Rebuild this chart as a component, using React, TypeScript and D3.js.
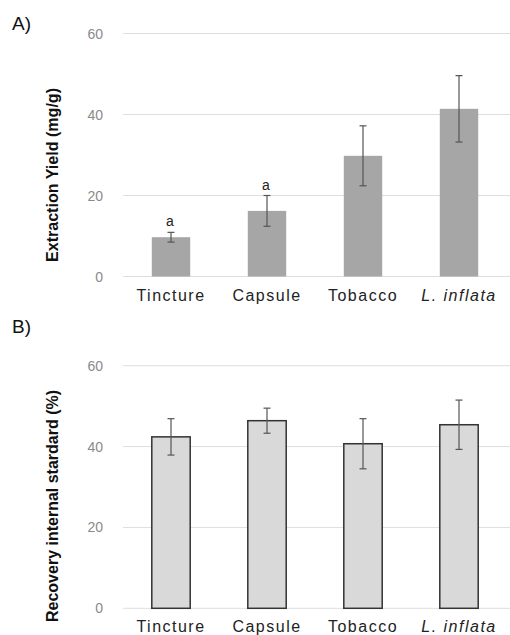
import React from "react";
import * as d3 from "d3";

// two stacked bar panels: extraction yield and internal standard recovery

const categories = ["Tincture", "Capsule", "Tobacco", "L. inflata"];
const yieldValues = [9.7, 16.2, 29.8, 41.4];
const yieldErrors = [1.2, 3.8, 7.4, 8.2];
const yieldLetters = ["a", "a", "", ""];
const recoveryValues = [42.4, 46.4, 40.7, 45.4];
const recoveryErrors = [4.5, 3.1, 6.2, 6.1];
const yTicks = [0, 20, 40, 60];

const W = 510;
const H = 635;
const FONT = "'Liberation Sans', Arial, sans-serif";

type PanelProps = {
  top: number; // pixel y of the 60 gridline
  bottom: number; // pixel y of 0
  letter: string;
  letterY: number;
  label: string;
  labelY: number;
  labelLen: number;
  values: number[];
  errors: number[];
  letters?: string[];
  fill: string;
  stroke?: string;
  catY: number;
};

function Panel(p: PanelProps) {
  const x = d3
    .scaleBand<string>()
    .domain(categories)
    .range([123, 507])
    .paddingInner(0.6)
    .paddingOuter(0.3);
  const y = d3.scaleLinear().domain([0, 60]).range([p.bottom, p.top]);
  const capW = 7;

  return (
    <g>
      <text x={12} y={p.letterY} fontFamily={FONT} fontSize={19} dominantBaseline="middle" fill="#111">
        {p.letter}
      </text>
      {yTicks.map((t) => (
        <g key={t}>
          <line x1={123} x2={W} y1={y(t)} y2={y(t)} stroke="#dedede" strokeWidth={1} />
          <text
            x={103}
            y={y(t)}
            textAnchor="end"
            dominantBaseline="central"
            fontFamily={FONT}
            fontSize={14}
            fill="#8a8a8a"
          >
            {t}
          </text>
        </g>
      ))}
      <text
        transform={`translate(52,${p.labelY}) rotate(-90)`}
        textAnchor="middle"
        dominantBaseline="central"
        fontFamily={FONT}
        fontSize={16}
        fontWeight="bold"
        textLength={p.labelLen}
        lengthAdjust="spacingAndGlyphs"
        fill="#111"
      >
        {p.label}
      </text>
      {categories.map((c, i) => {
        const bx = x(c)!;
        const cx = bx + x.bandwidth() / 2;
        const v = p.values[i];
        const e = p.errors[i];
        return (
          <g key={c}>
            <rect
              x={bx}
              y={y(v)}
              width={x.bandwidth()}
              height={y(0) - y(v)}
              fill={p.fill}
              stroke={p.stroke ?? "none"}
              strokeWidth={p.stroke ? 1.5 : 0}
            />
            <line x1={cx} x2={cx} y1={y(v + e)} y2={y(v - e)} stroke="#555" strokeWidth={1.2} />
            <line x1={cx - capW / 2} x2={cx + capW / 2} y1={y(v + e)} y2={y(v + e)} stroke="#555" strokeWidth={1.2} />
            <line x1={cx - capW / 2} x2={cx + capW / 2} y1={y(v - e)} y2={y(v - e)} stroke="#555" strokeWidth={1.2} />
            {p.letters && p.letters[i] ? (
              <text
                x={cx - 1}
                y={y(v + e) - 11}
                textAnchor="middle"
                dominantBaseline="central"
                fontFamily={FONT}
                fontSize={14}
                fill="#222"
              >
                {p.letters[i]}
              </text>
            ) : null}
            <text
              x={cx}
              y={p.catY}
              textAnchor="middle"
              dominantBaseline="central"
              fontFamily={FONT}
              fontSize={16}
              letterSpacing={1.5}
              fontStyle={c.startsWith("L.") ? "italic" : "normal"}
              fill="#222"
            >
              {c}
            </text>
          </g>
        );
      })}
    </g>
  );
}

export default function App() {
  return (
    <svg
      width={W}
      height={H}
      style={{ position: "absolute", left: 0, top: 0, background: "#fff" }}
    >
      <Panel
        top={33.5}
        bottom={276.5}
        letter="A)"
        letterY={25}
        label="Extraction Yield (mg/g)"
        labelY={175}
        labelLen={174}
        values={yieldValues}
        errors={yieldErrors}
        letters={yieldLetters}
        fill="#a6a6a6"
        catY={295}
      />
      <Panel
        top={365.7}
        bottom={608.3}
        letter="B)"
        letterY={328}
        label="Recovery internal stardard (%)"
        labelY={506}
        labelLen={232}
        values={recoveryValues}
        errors={recoveryErrors}
        fill="#d9d9d9"
        stroke="#333"
        catY={626}
      />
    </svg>
  );
}
